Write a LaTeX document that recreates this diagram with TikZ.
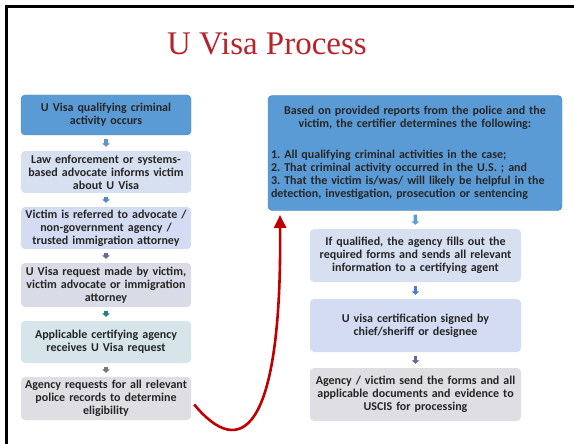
\documentclass[tikz,border=0pt]{standalone}
\usepackage{fontspec}
\setmainfont{Carlito}
\newfontfamily\titlefont{Liberation Serif}
\usetikzlibrary{arrows.meta}
\definecolor{titlered}{HTML}{B5232B}
\definecolor{textdark}{HTML}{262626}
\definecolor{darkblue}{HTML}{5B9BD5}
\definecolor{paleblue}{HTML}{D6E0F0}
\definecolor{lightblue}{HTML}{D3DCF2}
\definecolor{palegray}{HTML}{D9DCE6}
\definecolor{paleteal}{HTML}{D5E5E9}
\definecolor{lightgray}{HTML}{DFDFE3}
\definecolor{arrowred}{HTML}{C00000}
\frenchspacing

\begin{document}
\begin{tikzpicture}[x=1pt, y=-1pt,
    every node/.style={font=\bfseries\fontsize{12}{13}\selectfont, text=textdark},
    stepbox/.style={rounded corners=4pt, align=center, inner sep=1pt},
    leftbox/.style={stepbox, minimum width=170pt, text width=168pt},
    rightbox/.style={stepbox, minimum width=211pt, minimum height=53pt, text width=209pt},
    link/.style={line width=3.6pt, -{Triangle[width=7.5pt,length=3.5pt]}, shorten >=4pt, shorten <=4pt}]
      \useasboundingbox (0,0) rectangle (574,444);
      % frame, open to the right and the bottom
      \draw[line width=3pt] (6.5,444) -- (6.5,6.5) -- (574,6.5);
      % title
      \node[font=\titlefont\fontsize{33}{36}\selectfont, text=titlered] (title) at (267,44) {U Visa Process};
      % left column
      \node[leftbox, fill=darkblue, draw=darkblue!85!black, minimum height=40pt] (crime) at (106,115)
        {U Visa qualifying criminal\\activity occurs};
      \node[leftbox, fill=paleblue, minimum height=42pt] (inform) at (106,172)
        {Law enforcement or systems-\\based advocate informs victim\\about U Visa};
      \node[leftbox, fill=lightblue, minimum height=42pt] (refer) at (106,228)
        {Victim is referred to advocate /\\non-government agency /\\trusted immigration attorney};
      \node[leftbox, fill=palegray, minimum height=44pt] (request) at (106,285)
        {U Visa request made by victim,\\victim advocate or immigration\\attorney};
      \node[leftbox, fill=paleteal, minimum height=42pt] (receive) at (106,342)
        {Applicable certifying agency\\receives U Visa request};
      \node[leftbox, fill=lightgray, minimum height=43pt] (records) at (106,398.5)
        {Agency requests for all relevant\\police records to determine\\eligibility};
      \draw[link, color=darkblue!80!gray] (crime) -- (inform);
      \draw[link, color=darkblue!90!black] (inform) -- (refer);
      \draw[link, color=gray!80!blue] (refer) -- (request);
      \draw[link, color=teal!70!gray] (request) -- (receive);
      \draw[link, color=gray!90!violet] (receive) -- (records);
      % right column
      \node[stepbox, fill=darkblue, draw=darkblue!85!black, minimum width=294pt, minimum height=115pt,
        text width=288pt, align=left] (determine) at (415,153)
        {\centering Based on provided reports from the police and the\\
         victim, the certifier determines the following:\par\vspace{18pt}\raggedright
         1. All qualifying criminal activities in the case;\\
         2. That criminal activity occurred in the U.S. ; and\\
         3. That the victim is/was/ will likely be helpful in the\\
         detection, investigation, prosecution or sentencing};
      \node[rightbox, fill=paleblue] (forms) at (415.5,255.5)
        {If qualified, the agency fills out the\\required forms and sends all relevant\\information to a certifying agent};
      \node[rightbox, fill=lightblue] (signed) at (415.5,325.5)
        {U visa certification signed by\\chief/sheriff or designee};
      \node[rightbox, fill=lightgray] (send) at (415.5,394.5)
        {Agency / victim send the forms and all\\applicable documents and evidence to\\USCIS for processing};
      \draw[link, color=darkblue] (determine) -- (forms);
      \draw[link, color=darkblue!80!blue] (forms) -- (signed);
      \draw[link, color=gray!80!blue] (signed) -- (send);
      % red arrow from the left column up to the certifier
      \coordinate (tip) at (280,215);
      \draw[arrowred, line width=2.6pt, -{Triangle[width=12pt,length=13pt]}]
        ([xshift=3pt,yshift=-6pt]records.east) .. controls (240,460) and (282,435) .. (tip);
    \end{tikzpicture}
\end{document}
